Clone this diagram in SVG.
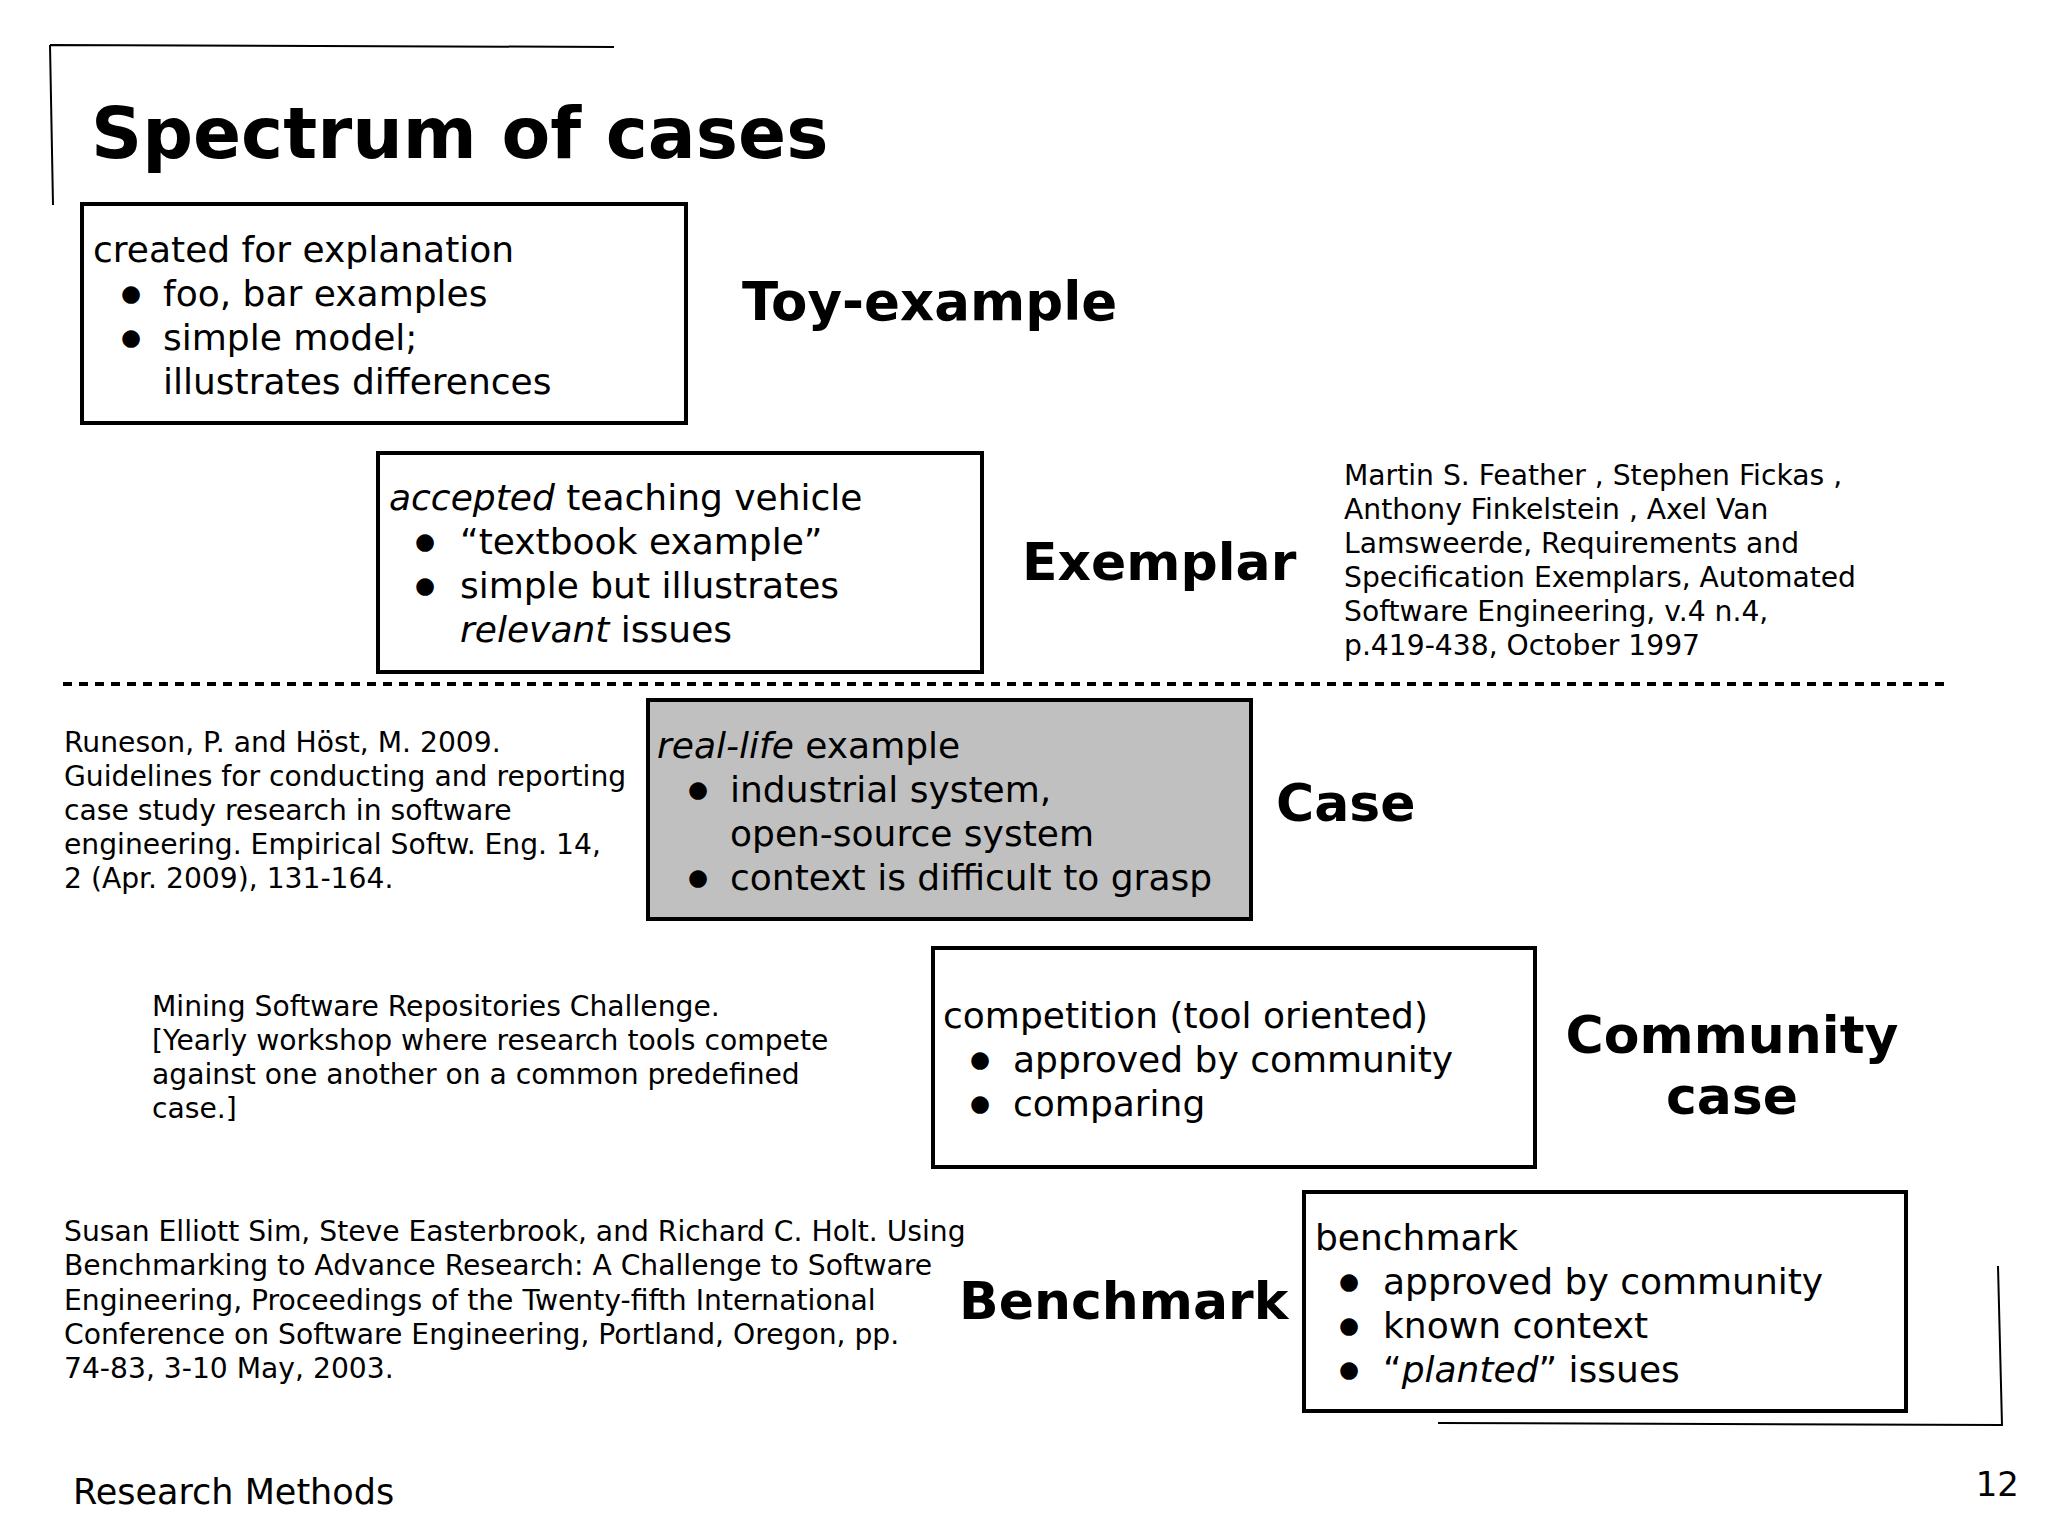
<svg xmlns="http://www.w3.org/2000/svg" width="2048" height="1536" viewBox="0 0 2048 1536">
<style>
.box{fill:#ffffff;stroke:#000;stroke-width:4}
.gray{fill:#c0c0c0}
.t{font-family:"DejaVu Sans","Verdana",sans-serif;font-size:36px;fill:#000}
.ref{font-family:"DejaVu Sans","Verdana",sans-serif;font-size:28.2px;fill:#000}
.lbl{font-family:"DejaVu Sans","Verdana",sans-serif;font-size:52px;font-weight:bold;fill:#000}
.title{font-family:"DejaVu Sans","Verdana",sans-serif;font-size:71px;font-weight:bold;fill:#000}
.b{text-anchor:middle}
.bl{font-family:"DejaVu Sans","Verdana",sans-serif;font-size:23px;fill:#000;text-anchor:middle}
.i{font-style:italic}
.thin{fill:none;stroke:#000;stroke-width:2}
</style>
<rect width="2048" height="1536" fill="#fff"/>
<g id="decor">
<path class="thin" d="M50,45 L614,47 M50,45 L53,205"/>
<path class="thin" d="M1998,1266 L2002,1425 L1438,1423"/>
</g>
<text class="title" x="91" y="158">Spectrum of cases</text>
<g id="connectors">
<line x1="63" y1="684" x2="1945" y2="684" stroke="#000" stroke-width="4" stroke-dasharray="9 7"/>
</g>
<g id="toy-example">
<rect class="box" x="82" y="204" width="604" height="219"/>
<text class="t" x="93" y="262">created for explanation</text>
<text class="bl" x="131" y="301">●</text>
<text class="t" x="163" y="306">foo, bar examples</text>
<text class="bl" x="131" y="345">●</text>
<text class="t" x="163" y="350">simple model;</text>
<text class="t" x="163" y="394">illustrates differences</text>
<text class="lbl" x="742" y="320" style="font-size:53px">Toy-example</text>
</g>
<g id="exemplar">
<rect class="box" x="378" y="453" width="604" height="219"/>
<text class="t" x="389" y="510"><tspan class="i">accepted</tspan> teaching vehicle</text>
<text class="bl" x="425" y="549">●</text>
<text class="t" x="460" y="554">“textbook example”</text>
<text class="bl" x="425" y="593">●</text>
<text class="t" x="460" y="598">simple but illustrates</text>
<text class="t" x="460" y="642"><tspan class="i">relevant</tspan> issues</text>
<text class="lbl" x="1022" y="580">Exemplar</text>
</g>
<g id="ref-feather">
<text class="ref" x="1344" y="485">Martin S. Feather , Stephen Fickas ,</text>
<text class="ref" x="1344" y="519">Anthony Finkelstein , Axel Van</text>
<text class="ref" x="1344" y="553">Lamsweerde, Requirements and</text>
<text class="ref" x="1344" y="587">Specification Exemplars, Automated</text>
<text class="ref" x="1344" y="621">Software Engineering, v.4 n.4,</text>
<text class="ref" x="1344" y="655">p.419-438, October 1997</text>
</g>
<g id="case">
<rect class="box gray" x="648" y="700" width="603" height="219"/>
<text class="t" x="657" y="758"><tspan class="i">real-life</tspan> example</text>
<text class="bl" x="698" y="797">●</text>
<text class="t" x="730" y="802">industrial system,</text>
<text class="t" x="730" y="846">open-source system</text>
<text class="bl" x="698" y="885">●</text>
<text class="t" x="730" y="890">context is difficult to grasp</text>
<text class="lbl" x="1276" y="821">Case</text>
</g>
<g id="ref-runeson">
<text class="ref" x="64" y="752">Runeson, P. and Höst, M. 2009.</text>
<text class="ref" x="64" y="786">Guidelines for conducting and reporting</text>
<text class="ref" x="64" y="820">case study research in software</text>
<text class="ref" x="64" y="854">engineering. Empirical Softw. Eng. 14,</text>
<text class="ref" x="64" y="888">2 (Apr. 2009), 131-164.</text>
</g>
<g id="community-case">
<rect class="box" x="933" y="948" width="602" height="219"/>
<text class="t" x="943" y="1028">competition (tool oriented)</text>
<text class="bl" x="980" y="1067">●</text>
<text class="t" x="1013" y="1072">approved by community</text>
<text class="bl" x="980" y="1111">●</text>
<text class="t" x="1013" y="1116">comparing</text>
<text class="lbl b" x="1732" y="1053">Community</text>
<text class="lbl b" x="1732" y="1114">case</text>
</g>
<g id="ref-msr">
<text class="ref" x="152" y="1016">Mining Software Repositories Challenge.</text>
<text class="ref" x="152" y="1050">[Yearly workshop where research tools compete</text>
<text class="ref" x="152" y="1084">against one another on a common predefined</text>
<text class="ref" x="152" y="1118">case.]</text>
</g>
<g id="benchmark">
<rect class="box" x="1304" y="1192" width="602" height="219"/>
<text class="t" x="1315" y="1250">benchmark</text>
<text class="bl" x="1349" y="1289">●</text>
<text class="t" x="1383" y="1294">approved by community</text>
<text class="bl" x="1349" y="1333">●</text>
<text class="t" x="1383" y="1338">known context</text>
<text class="bl" x="1349" y="1377">●</text>
<text class="t" x="1383" y="1382">“<tspan class="i">planted</tspan>” issues</text>
<text class="lbl" x="959" y="1319">Benchmark</text>
</g>
<g id="ref-sim">
<text class="ref" x="64" y="1241">Susan Elliott Sim, Steve Easterbrook, and Richard C. Holt. Using</text>
<text class="ref" x="64" y="1275">Benchmarking to Advance Research: A Challenge to Software</text>
<text class="ref" x="64" y="1310">Engineering, Proceedings of the Twenty-fifth International</text>
<text class="ref" x="64" y="1344">Conference on Software Engineering, Portland, Oregon, pp.</text>
<text class="ref" x="64" y="1378">74-83, 3-10 May, 2003.</text>
</g>
<text class="t" x="73" y="1504" style="font-size:35px">Research Methods</text>
<text class="t" x="2019" y="1496" style="font-size:34px;text-anchor:end">12</text>
</svg>
